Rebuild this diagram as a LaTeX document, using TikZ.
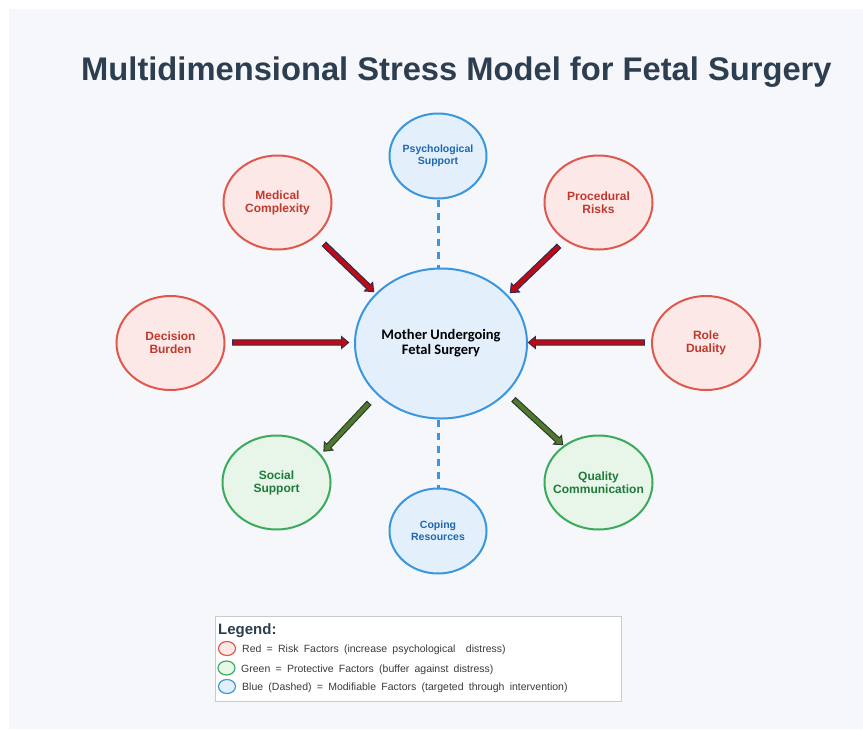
\documentclass[tikz,border=0pt]{standalone}
\usepackage{fontspec}
\setmainfont{Liberation Sans}
\newfontfamily\centrefont{Carlito}
\newfontfamily\legendfont{Liberation Sans}[WordSpace=1.8]
\usetikzlibrary{shapes.geometric,shapes.arrows,calc}

\definecolor{panel}{HTML}{F5F7FA}
\definecolor{titlecol}{HTML}{2C3E50}
\definecolor{riskline}{HTML}{E0584C}
\definecolor{riskfill}{HTML}{FDE8E8}
\definecolor{risktext}{HTML}{C0392B}
\definecolor{protline}{HTML}{3BAA5C}
\definecolor{protfill}{HTML}{E8F5E9}
\definecolor{prottext}{HTML}{1E7B3A}
\definecolor{modline}{HTML}{3A96DD}
\definecolor{modfill}{HTML}{E3F0FC}
\definecolor{modtext}{HTML}{1F66B0}
\definecolor{arrowred}{HTML}{C00A14}
\definecolor{arrowline}{HTML}{2B2D55}
\definecolor{arrowgreen}{HTML}{4F7A2E}
\definecolor{greenarrowline}{HTML}{2B3A2B}
\definecolor{legendline}{HTML}{C5CBD3}
\definecolor{legendtext}{HTML}{3A3A3A}

\begin{document}
\begin{tikzpicture}[x=1pt,y=-1pt,
  factor/.style={ellipse, line width=2pt, align=center, inner xsep=-12pt,
    inner ysep=0pt, font=\bfseries\fontsize{12}{13}\selectfont},
  risk/.style={factor, draw=riskline, fill=riskfill, text=risktext,
    minimum width=108pt, minimum height=94pt},
  protect/.style={factor, draw=protline, fill=protfill, text=prottext,
    minimum width=108pt, minimum height=94pt},
  modif/.style={factor, draw=modline, fill=modfill, text=modtext,
    minimum width=97pt, minimum height=85pt,
    font=\bfseries\fontsize{10.5}{12}\selectfont},
  mother/.style={ellipse, line width=2pt, draw=modline, fill=modfill,
    minimum width=172pt, minimum height=150pt, align=center, inner sep=0pt,
    font=\centrefont\bfseries\fontsize{14.5}{15}\selectfont},
  blockarrow/.style={single arrow, line width=1pt, inner xsep=0pt,
    inner ysep=2.2pt, minimum width=0pt, single arrow head extend=3.2pt,
    single arrow tip angle=80, sloped, allow upside down},
  riskarrow/.style={blockarrow, draw=arrowline, fill=arrowred},
  protarrow/.style={blockarrow, draw=greenarrowline, fill=arrowgreen},
  modlink/.style={draw=modline, line width=3pt, dash pattern=on 7pt off 6pt},
  keycircle/.style={ellipse, line width=1.2pt, minimum width=17pt,
    minimum height=14pt, inner sep=0pt},
  keytext/.style={anchor=base west, inner sep=0pt, text=legendtext,
    font=\legendfont\fontsize{10.5}{12}\selectfont},
]
% canvas and panel
\fill[white] (0,0) rectangle (863,729);
\fill[panel] (9,9) rectangle (863,729);
\useasboundingbox (0,0) rectangle (863,729);

% title
\node[anchor=base west, inner sep=0pt, text=titlecol,
  font=\bfseries\fontsize{32.7}{36}\selectfont] (title) at (81,80.5)
  {Multidimensional Stress Model for Fetal Surgery};

% central node
\node[mother] (mother) at (441,343.5) {Mother Undergoing\\Fetal Surgery};

% surrounding factors
\node[modif]   (psych)   at (438,156)   {Psychological\\Support};
\node[modif]   (coping)  at (438,531)   {Coping\\Resources};
\node[risk]    (medical) at (277.5,202.5) {Medical\\Complexity};
\node[risk]    (proc)    at (598.5,202.5) {Procedural\\Risks};
\node[risk]    (decision) at (170.5,343) {Decision\\Burden};
\node[risk]    (role)    at (706,343)   {Role\\Duality};
\node[protect] (social)  at (276.5,482.5) {Social\\Support};
\node[protect] (quality) at (598.5,482.5) {Quality\\Communication};

% arrow end points
\coordinate (medA)  at (323,243);   \coordinate (medB)  at (372.5,290.5);
\coordinate (procA) at (560,245);   \coordinate (procB) at (511.5,291.5);
\coordinate (decA)  at (231,342.5); \coordinate (decB)  at (347,342.5);
\coordinate (roleA) at (646,342.5); \coordinate (roleB) at (530,342.5);
\coordinate (socA)  at (370,402);   \coordinate (socB)  at (325,450);
\coordinate (qualA) at (512.5,398.5); \coordinate (qualB) at (561.5,443.5);

% risk factors pointing inwards
\foreach \a/\b in {medA/medB, procA/procB, decA/decB, roleA/roleB}{
  \path let \p1=($(\b)-(\a)$), \n1={veclen(\x1,\y1)} in
    (\a) -- (\b) node[midway, riskarrow, minimum height=\n1] {};
}
% protective factors pointing outwards
\foreach \a/\b in {socA/socB, qualA/qualB}{
  \path let \p1=($(\b)-(\a)$), \n1={veclen(\x1,\y1)} in
    (\a) -- (\b) node[midway, protarrow, minimum height=\n1] {};
}

% modifiable factors: dashed links
\draw[modlink] (psych.south) -- (psych.south |- mother.north);
\draw[modlink] (coping.north |- mother.south) -- (coping.north);

% legend
\node[draw=legendline, fill=white, line width=1.2pt, anchor=north west,
  inner sep=0pt, minimum width=406pt, minimum height=85pt] (legend)
  at (214.5,615.5) {};
\node[anchor=base west, inner sep=0pt, text=titlecol,
  font=\bfseries\fontsize{15}{18}\selectfont] (legtitle) at (218,634) {Legend:};
\node[keycircle, draw=riskline, fill=riskfill] (keyred)   at (227,648.5) {};
\node[keycircle, draw=protline, fill=protfill] (keygreen) at (226.5,668) {};
\node[keycircle, draw=modline, fill=modfill]   (keyblue)  at (227,686.5) {};
\node[keytext] (txtred)   at (242,652.5)
  {Red = Risk Factors (increase psychological\ \ distress)};
\node[keytext] (txtgreen) at (241,672)
  {Green = Protective Factors (buffer against distress)};
\node[keytext] (txtblue)  at (242,690.5)
  {Blue (Dashed) = Modifiable Factors (targeted through intervention)};
\end{tikzpicture}
\end{document}
